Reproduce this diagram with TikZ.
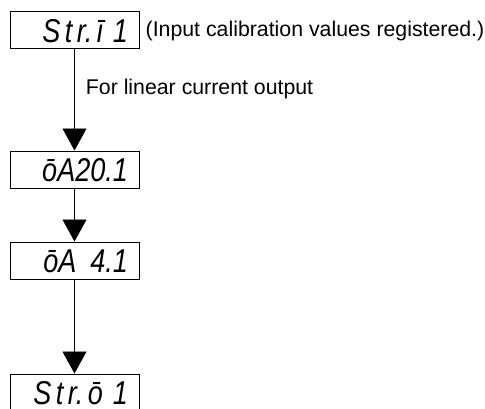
\documentclass[tikz,border=0pt]{standalone}
\usepackage{fontspec}
\setmainfont{Liberation Sans}
\newfontfamily\segfont{Liberation Sans}[FakeStretch=0.82]
\usetikzlibrary{arrows.meta,positioning}
\newcommand\segsp{\hspace{4.5pt}}

\begin{document}
\begin{tikzpicture}[
  x=1pt, y=1pt,
  font=\fontsize{21.3}{24}\selectfont,
  display/.style={draw, line width=1pt, text height=24pt, text depth=0pt, text width=107pt, inner xsep=11pt, inner ysep=6.5pt, align=right, font=\segfont\itshape\fontsize{33}{33}\selectfont},
  note/.style={inner sep=0pt},
  arrow/.style={-{Triangle[width=24pt,length=22pt]}, line width=0.8pt},
  node distance=101pt
]
\useasboundingbox (0,0) rectangle (485,408);

\node[display] (strin) at (74.5,377.5) {S\segsp t\segsp r.\segsp ī\hspace{10pt}1};
\node[note, right=6pt of strin] (calnote) {(Input calibration values registered.)};
\node[display, below=101pt of strin] (oa20) {ōA20.1};
\node[display, below=53pt of oa20] (oa4) {ōA\hspace{14pt}4.1};
\node[display, below=94pt of oa4] (strout) {S\segsp t\segsp r.\segsp ō\hspace{10pt}1};

\draw[arrow] (strin) -- (oa20) node[note, pos=0.39, right=11pt] (linnote) {For linear current output};
\draw[arrow] (oa20) -- (oa4);
\draw[arrow] (oa4) -- (strout);
\end{tikzpicture}
\end{document}
